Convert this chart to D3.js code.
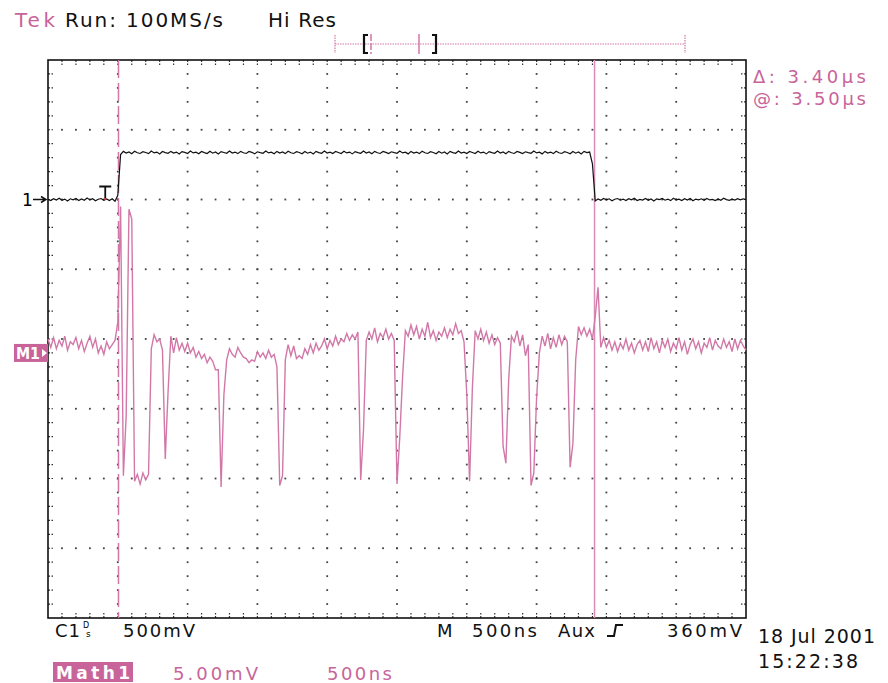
<!DOCTYPE html>
<html>
<head>
<meta charset="utf-8">
<script src="https://cdn.jsdelivr.net/npm/d3@7"></script>
<style>
body{margin:0;background:#fff;}
text{font-family:"DejaVu Sans",Verdana,sans-serif;}
</style>
</head>
<body>
<div class="box"></div>
<script>
// scope record: one sample every 20ns, 5us on screen
const sampleNs=20;
// channel 1, mV (500mV/div)
const ch1mV=[0,-8,6,-4,9,-6,3,-10,5,-2,8,-7,4,-5,10,-3,6,-9,2,7,-6,4,-8,5,-12,30,
322,345,333,341,328,346,335,330,343,337,
329,348,334,340,327,344,336,331,345,333,
340,326,343,338,330,347,334,339,328,344,
336,330,346,332,341,327,343,337,331,348,
333,340,329,345,335,330,344,338,327,342,
336,331,347,334,339,328,345,333,341,329,
346,335,330,343,337,328,344,332,340,327,
345,336,331,348,333,339,329,344,337,330,
346,334,340,327,343,336,331,347,333,341,
328,345,335,330,344,338,329,342,336,331,
347,334,339,327,345,333,340,329,346,335,
330,343,337,328,344,332,341,327,345,336,
331,348,333,339,329,344,337,330,346,334,
340,327,343,336,331,347,333,341,328,345,
335,330,344,338,329,342,336,331,347,334,
339,327,345,333,340,329,346,335,330,343,
337,328,344,332,341,327,345,336,340,
255,
-10,4,-6,8,-3,5,-9,2,7,-5,
3,-8,6,-2,9,-7,1,-4,8,-6,
4,-10,5,-1,7,-5,3,-8,9,-3,
2,-7,6,-4,8,-9,3,-2,5,-6,
7,-3,1,-8,4,-5,9,-1,-6,3,
-4,6,-2,5,0];
// math 1, mV (5.00mV/div)
const math1mV=[1.0,0.4,1.1,0.3,0.9,0.5,1.2,0.2,0.8,0.6,
1.1,0.3,0.9,0.1,0.7,1.2,0.4,1.0,0.0,0.5,
-0.1,0.8,0.3,0.6,0.9,2.2,10.5,-8.8,-4.5,10.3,
9.6,-9.2,-8.7,-9.4,-8.6,-9.1,-8.7,0.3,1.3,0.8,
1.0,0.2,-7.6,-2.8,1.2,0.0,1.1,0.2,0.7,0.1,
0.7,0.0,0.4,-0.3,0.1,-0.4,-0.1,-0.7,-0.3,-0.6,
-1.2,-1.2,-9.6,-3.0,-0.5,0.3,-0.1,-0.3,0.4,0.0,
-0.3,-0.4,-0.7,-0.5,-0.6,0.1,-0.3,0.0,-0.4,0.2,
-0.3,-0.1,-1.0,-9.5,-8.8,-0.5,0.6,-0.2,0.5,-0.4,
-0.2,-0.4,0.3,-0.1,0.6,0.0,0.7,0.2,0.5,1.0,
0.3,0.9,0.5,1.2,0.6,1.0,0.8,1.4,0.9,1.3,
1.0,1.5,-9.1,-5.5,0.9,1.5,1.0,1.8,0.8,1.4,
1.1,1.7,1.0,1.4,0.9,-9.4,-6.0,-1.7,1.6,1.2,
2.0,1.3,1.9,1.0,1.7,1.2,2.2,1.1,1.6,0.9,
1.5,1.2,1.8,1.1,1.7,1.3,2.1,1.4,1.6,0.8,
-3.0,-9.2,-2.5,1.6,1.0,1.7,0.9,1.5,0.7,1.3,
0.6,1.1,0.7,-6.7,-7.9,-1.9,1.2,0.8,1.6,0.5,
1.3,-0.2,0.6,-9.5,-8.6,-3.2,0.0,1.2,0.5,1.4,
0.3,1.1,0.4,1.3,0.6,1.2,0.8,-8.2,-6.5,-0.5,
1.9,1.3,1.8,1.2,1.7,1.0,2.6,4.7,0.4,1.1,
0.4,0.9,0.2,0.8,0.1,0.7,0.3,1.0,0.2,0.7,
0.0,0.6,0.9,0.2,0.8,0.1,1.1,0.3,0.8,0.0,
0.9,0.4,1.0,0.1,0.7,0.3,1.1,0.2,0.8,-0.1,
0.6,1.0,0.3,0.8,0.0,0.7,0.4,1.1,0.2,0.9,
0.5,0.3,1.0,0.4,0.8,0.1,1.0,0.3,0.9,0.5,
0.2];
const cursorNs=[505,3915];
const trigNs=410;
const cursorText=['Δ: 3.40µs','@: 3.50µs'];
const headText=['Tek','Run: 100MS/s','Hi Res'];
const ch1Text=['C1','500mV'];
const timebaseText=['M','500ns','Aux','360mV'];
const mathText=['Math1','5.00mV','500ns'];
const dateText=['18 Jul 2001','15:22:38'];

const pink='#c8649a', tracePink='#d278a8', cursPink='#dc8cb8';
const g={left:48,right:746,top:60,bottom:618};

const svg=d3.select('.box').append('svg')
    .attr('width',888).attr('height',683)
    .style('display','block');

const x=d3.scaleLinear().domain([0,5000]).range([g.left,g.right]);
const y1=d3.scaleLinear().domain([-3000,1000]).range([g.bottom,g.top]);
const yM=d3.scaleLinear().domain([-19,21]).range([g.bottom,g.top]);

// graticule
const grid=svg.append('g');
const minorT=d3.range(100,5000,100), majorT=d3.range(500,5000,500);
const minorV=d3.range(-2900,1000,100), majorV=d3.range(-2500,1000,500);
majorT.forEach(t=>{
    grid.selectAll(null).data(minorV).enter().append('rect')
        .attr('x',x(t)-0.9).attr('y',d=>y1(d)-0.9)
        .attr('width',1.8).attr('height',1.8).attr('fill','#444');
});
majorV.forEach(v=>{
    grid.selectAll(null).data(minorT).enter().append('rect')
        .attr('x',d=>x(d)-0.9).attr('y',y1(v)-0.9)
        .attr('width',1.8).attr('height',1.8).attr('fill','#444');
});
grid.selectAll(null).data(minorT).enter().append('path')
    .attr('d',d=>`M${x(d)},${g.top}v5M${x(d)},${g.bottom}v-5`)
    .attr('stroke','#333').attr('stroke-width',1.2).attr('stroke-dasharray','2,1.5');
grid.selectAll(null).data(minorV).enter().append('path')
    .attr('d',d=>`M${g.left},${y1(d)}h5M${g.right},${y1(d)}h-5`)
    .attr('stroke','#333').attr('stroke-width',1.2).attr('stroke-dasharray','2,1.5');
grid.append('rect')
    .attr('x',g.left).attr('y',g.top)
    .attr('width',g.right-g.left).attr('height',g.bottom-g.top)
    .attr('fill','none').attr('stroke','#111').attr('stroke-width',1.6);

// cursors
svg.append('line')
    .attr('x1',x(cursorNs[0])).attr('x2',x(cursorNs[0]))
    .attr('y1',g.top).attr('y2',g.bottom)
    .attr('stroke',tracePink).attr('stroke-width',1.5).attr('stroke-dasharray','18,5');
svg.append('line')
    .attr('x1',x(cursorNs[1])).attr('x2',x(cursorNs[1]))
    .attr('y1',g.top).attr('y2',g.bottom)
    .attr('stroke',cursPink).attr('stroke-width',1.5);

// traces
const lineM=d3.line().x((d,i)=>x(i*sampleNs)).y(d=>yM(d));
const line1=d3.line().x((d,i)=>x(i*sampleNs)).y(d=>y1(d));
svg.append('path').attr('d',lineM(math1mV))
    .attr('fill','none').attr('stroke',tracePink).attr('stroke-width',1.4);
svg.append('path').attr('d',line1(ch1mV))
    .attr('fill','none').attr('stroke','#111').attr('stroke-width',1.2);

// trigger marker
const tx=x(trigNs), ty=y1(0);
svg.append('path')
    .attr('d',`M${tx-6},${ty-13}h12M${tx},${ty-13}v12`)
    .attr('stroke','#111').attr('stroke-width',1.8).attr('fill','none');
svg.append('rect').attr('x',tx-1).attr('y',ty-1.5).attr('width',2).attr('height',2).attr('fill','#d33');

// channel markers
svg.append('text').attr('x',22).attr('y',y1(0)+6).attr('font-size',17).text('1');
svg.append('path').attr('d',`M33,${y1(0)}H45M41,${y1(0)-3}L46,${y1(0)}L41,${y1(0)+3}`)
    .attr('stroke','#111').attr('stroke-width',1.5).attr('fill','none');
svg.append('rect').attr('x',14).attr('y',yM(0)-9).attr('width',34).attr('height',18).attr('fill',pink);
svg.append('text').attr('x',16).attr('y',yM(0)+6).attr('font-size',15).attr('font-weight','bold')
    .attr('fill','#fff').attr('textLength',24).attr('lengthAdjust','spacingAndGlyphs').text('M1');
svg.append('path').attr('d',`M42,${yM(0)-4}L47,${yM(0)}L42,${yM(0)+4}Z`).attr('fill','#fff');

// header
const txt=(s,px,py,len,size,col,w)=>svg.append('text')
    .attr('x',px).attr('y',py).attr('font-size',size)
    .attr('fill',col||'#111').attr('font-weight',w||'normal')
    .attr('textLength',len).attr('lengthAdjust','spacing').text(s);
txt(headText[0],15,27,40,20,pink);
txt(headText[1],65,27,158,20);
txt(headText[2],268,27,68,20);

// record position bar
const rb=svg.append('g');
rb.append('line').attr('x1',335).attr('x2',685).attr('y1',44).attr('y2',44)
    .attr('stroke',tracePink).attr('stroke-width',1.2).attr('stroke-dasharray','1.5,1');
rb.selectAll(null).data([335,685]).enter().append('line')
    .attr('x1',d=>d).attr('x2',d=>d).attr('y1',35).attr('y2',53)
    .attr('stroke',tracePink).attr('stroke-width',1.2).attr('stroke-dasharray','1.5,1');
rb.append('line').attr('x1',371).attr('x2',371).attr('y1',34).attr('y2',54)
    .attr('stroke',tracePink).attr('stroke-width',1.5).attr('stroke-dasharray','7,2');
rb.append('line').attr('x1',419).attr('x2',419).attr('y1',34).attr('y2',54)
    .attr('stroke',tracePink).attr('stroke-width',1.5);
rb.append('path').attr('d','M368,35H364V53H368M432,35H436V53H432')
    .attr('stroke','#111').attr('stroke-width',2.2).attr('fill','none');

// cursor readout
txt(cursorText[0],753,83,113,18,pink);
txt(cursorText[1],753,105,113,18,pink);

// bottom readouts
txt(ch1Text[0],55,637,25,18);
svg.append('text').attr('x',83).attr('y',628).attr('font-size',8).text('D');
svg.append('text').attr('x',86).attr('y',637).attr('font-size',9).text('s');
txt(ch1Text[1],123,637,72,18);
txt(timebaseText[0],437,637,14,18);
txt(timebaseText[1],472,637,65,18);
txt(timebaseText[2],558,637,37,18);
svg.append('path').attr('d','M607,636H614L616,625H623')
    .attr('stroke','#111').attr('stroke-width',2).attr('fill','none');
txt(timebaseText[3],667,637,75,18);
txt(dateText[0],758,643,117,19);
txt(dateText[1],758,668,100,19);

svg.append('rect').attr('x',53).attr('y',662).attr('width',80).attr('height',20).attr('fill',pink);
txt(mathText[0],56,679,74,17,'#fff','bold');
txt(mathText[1],173,680,85,18,pink);
txt(mathText[2],327,680,65,18,pink);
</script>
</body>
</html>
